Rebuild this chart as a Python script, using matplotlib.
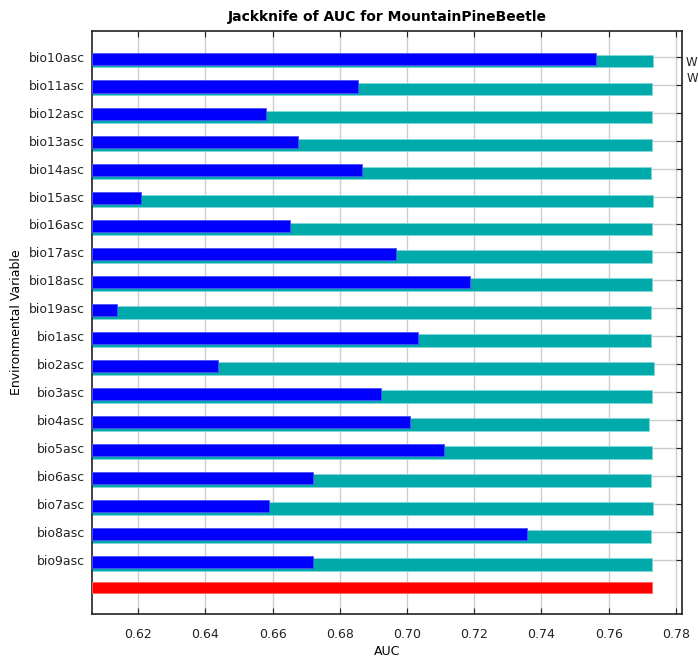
import matplotlib
matplotlib.use("Agg")
import matplotlib.pyplot as plt
import numpy as np

variables = ["bio10asc", "bio11asc", "bio12asc", "bio13asc", "bio14asc",
             "bio15asc", "bio16asc", "bio17asc", "bio18asc", "bio19asc",
             "bio1asc", "bio2asc", "bio3asc", "bio4asc", "bio5asc",
             "bio6asc", "bio7asc", "bio8asc", "bio9asc"]

# AUC with only this variable (blue)
with_only = [0.7562, 0.6854, 0.6580, 0.6675, 0.6866,
             0.6208, 0.6651, 0.6967, 0.7187, 0.6137,
             0.7032, 0.6437, 0.6922, 0.7009, 0.7110,
             0.6720, 0.6589, 0.7357, 0.6720]

# AUC without this variable (teal)
without = [0.7733, 0.7729, 0.7729, 0.7729, 0.7725,
           0.7733, 0.7729, 0.7729, 0.7729, 0.7725,
           0.7725, 0.7736, 0.7729, 0.7721, 0.7729,
           0.7725, 0.7733, 0.7725, 0.7729]

all_vars = 0.7729
xticks = [0.62, 0.64, 0.66, 0.68, 0.70, 0.72, 0.74, 0.76, 0.78]

teal = "#00aaaa"
blue = "#0000ff"
red = "#ff0000"
x0 = 0.6063

fig = plt.figure(figsize=(6.98, 6.6), dpi=100)
ax = fig.add_axes([92 / 698, 1 - 614 / 660, 590 / 698, 583 / 660])

rows = np.arange(len(variables))
without_w = np.array(without) - x0
only_w = np.array(with_only) - x0

ax.barh(rows + 0.155, without_w, left=x0, height=0.45, color=teal,
        edgecolor="#7fd8d8", linewidth=0.6, zorder=2)
ax.barh(rows + 0.065, only_w, left=x0, height=0.43, color=blue,
        edgecolor="#5050ff", linewidth=0.6, zorder=3)
ax.barh([18.98], [all_vars - x0], left=x0, height=0.415, color=red,
        edgecolor="#ff6060", linewidth=0.6, zorder=3)

ax.set_xlim(x0, 0.7818)
ax.set_ylim(19.93, -0.92)
ax.set_xticks(xticks)
ax.set_xticklabels(["%.2f" % t for t in xticks])
ax.set_yticks(rows)
ax.set_yticklabels(variables)

ax.grid(True, color="#cccccc", linewidth=1.0, zorder=0)
ax.set_axisbelow(True)

ax.tick_params(axis="x", which="both", top=True, bottom=True, direction="in",
               length=4, labelsize=9, colors="#222222", pad=10)
ax.tick_params(axis="y", which="both", left=False, right=True, direction="in",
               length=4, labelsize=9, colors="#222222", pad=5)
for s in ax.spines.values():
    s.set_color("#222222")
    s.set_linewidth(1.2)

ax.set_title("Jackknife of AUC for MountainPineBeetle", fontsize=10,
             fontweight="bold", pad=7)
ax.set_xlabel("AUC", fontsize=9, labelpad=3)
ax.set_ylabel("Environmental Variable", fontsize=9, labelpad=4)

# legend entries, only their first letter fits inside the image
fig.text(686 / 698, 1 - 62 / 660, "W", fontsize=8.5,
         va="center", ha="left", color="#222222")
fig.text(687 / 698, 1 - 79 / 660, "W", fontsize=8.5,
         va="center", ha="left", color="#222222")

fig.savefig("out.png", dpi=100)
